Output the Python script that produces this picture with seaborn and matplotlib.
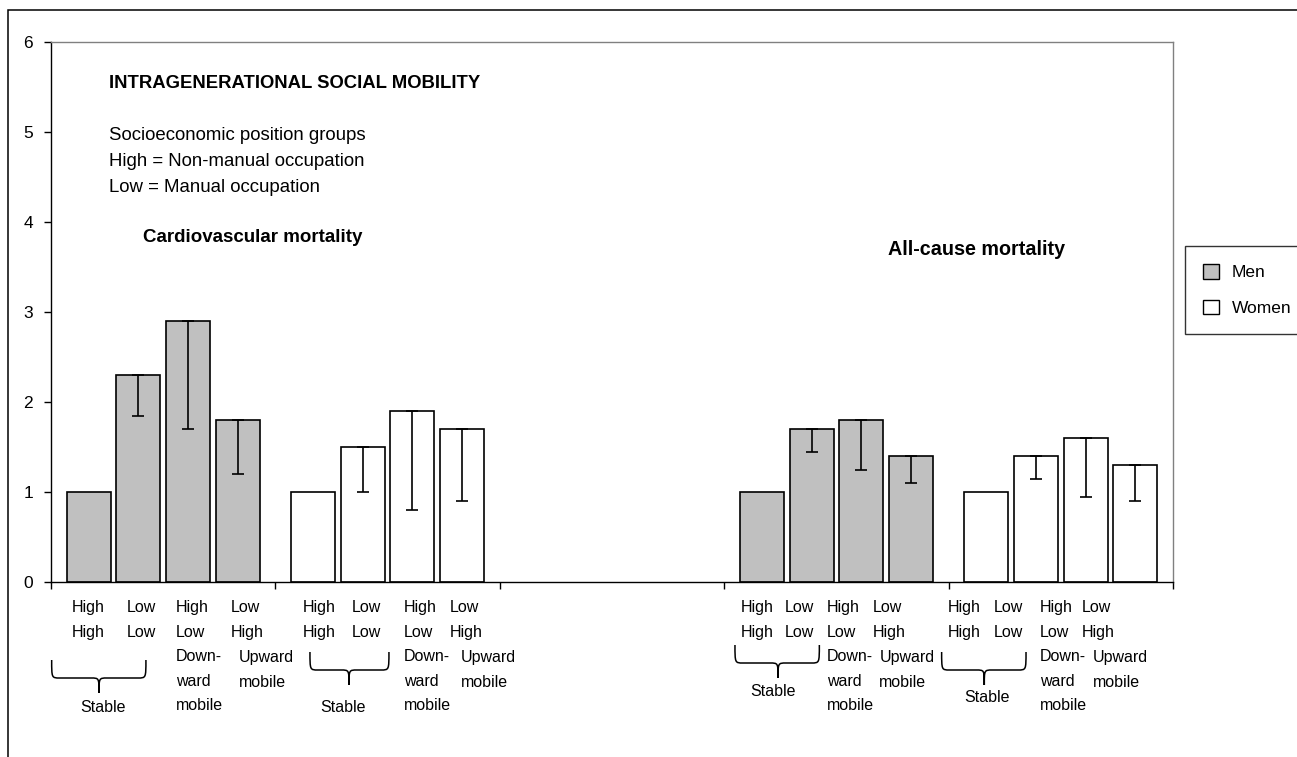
import numpy as np
import pandas as pd
import matplotlib
matplotlib.use("Agg")
import matplotlib.pyplot as plt
import matplotlib.transforms as mtransforms
from matplotlib.patches import Patch, Rectangle, PathPatch
from matplotlib.path import Path
import seaborn as sns

# data
grupos = ["cvd_men", "cvd_women", "vazio", "all_men", "all_women"]
mobilidade = ["High-High", "Low-Low", "High-Low", "Low-High"]

cvd_men = [1.0, 2.3, 2.9, 1.8]
cvd_men_low = [np.nan, 1.85, 1.7, 1.2]
cvd_women = [1.0, 1.5, 1.9, 1.7]
cvd_women_low = [np.nan, 1.0, 0.8, 0.9]
all_men = [1.0, 1.7, 1.8, 1.4]
all_men_low = [np.nan, 1.45, 1.25, 1.1]
all_women = [1.0, 1.4, 1.6, 1.3]
all_women_low = [np.nan, 1.15, 0.95, 0.9]

rotulos = ["High\nHigh", "Low\nLow", "High\nLow", "Low\nHigh"]
desc_down = "Down-\nward\nmobile"
desc_up = "Upward\nmobile"
texto_titulo = "INTRAGENERATIONAL SOCIAL MOBILITY"
texto_info = ["Socioeconomic position groups",
              "High = Non-manual occupation",
              "Low = Manual occupation"]

homens = pd.DataFrame({
    "grupo": ["cvd_men"] * 4 + ["all_men"] * 4,
    "mob": mobilidade * 2,
    "valor": cvd_men + all_men,
    "baixo": cvd_men_low + all_men_low,
})
mulheres = pd.DataFrame({
    "grupo": ["cvd_women"] * 4 + ["all_women"] * 4,
    "mob": mobilidade * 2,
    "valor": cvd_women + all_women,
    "baixo": cvd_women_low + all_women_low,
})

W, H = 1297, 757
sns.set_theme(style="white")
plt.rcParams["font.family"] = ["Liberation Sans", "DejaVu Sans"]
plt.rcParams["text.color"] = "black"
plt.rcParams["xtick.color"] = "black"
plt.rcParams["ytick.color"] = "black"
plt.rcParams["axes.labelcolor"] = "black"

fig = plt.figure(figsize=(W / 100, H / 100), dpi=100)
ax = fig.add_axes([51 / W, 1 - 582 / H, (1173 - 51) / W, (582 - 42) / H])

cinza = "#c0c0c0"
largura = 0.884
for df, cor in [(homens, cinza), (mulheres, "white")]:
    sns.barplot(data=df, x="grupo", y="valor", hue="mob", order=grupos,
                hue_order=mobilidade, palette=[cor] * 4, width=largura, gap=0.11,
                edgecolor="black", linewidth=1.2, errorbar=None, legend=False,
                saturation=1, ax=ax)

# error bars (minus only), positioned on the bars seaborn drew
todos = pd.concat([homens, mulheres])
baixos = {(r.grupo, r.mob): r.baixo for r in todos.itertuples()}
slot = largura / 4
for p in ax.patches:
    cx = p.get_x() + p.get_width() / 2
    topo = p.get_height()
    gi = int(round(cx))
    hi = int(round((cx - gi + largura / 2 - slot / 2) / slot))
    lo = baixos.get((grupos[gi], mobilidade[hi]), np.nan)
    if np.isnan(lo):
        continue
    ax.errorbar(cx, topo, yerr=[[topo - lo], [0]], fmt="none", ecolor="black",
                elinewidth=1.2, capsize=4.3, capthick=1.2, zorder=5)

ax.set_xlim(-0.5, 4.5)
ax.set_ylim(0, 6)
ax.set_yticks(range(7))
ax.set_xticks(np.arange(-0.5, 5, 1))
ax.set_xticklabels([])
ax.set_xlabel("")
ax.set_ylabel("")
ax.tick_params(axis="y", direction="out", length=5, width=1, color="black",
               labelsize=12.5, labelcolor="black", pad=8, left=True)
ax.tick_params(axis="x", direction="out", length=5, width=1, color="black", bottom=True)
for lado in ["left", "bottom"]:
    ax.spines[lado].set_color("black")
    ax.spines[lado].set_linewidth(1.0)
for lado in ["top", "right"]:
    ax.spines[lado].set_color("#808080")
    ax.spines[lado].set_linewidth(1.0)
ax.grid(False)


def fy(py):
    return 1 - py / H


def fx(px):
    return px / W


fig.text(fx(109), fy(84), texto_titulo, fontsize=13.3, fontweight="bold", va="center")
for i, linha in enumerate(texto_info):
    fig.text(fx(109), fy(136 + 26 * i), linha, fontsize=13.4, va="center")
fig.text(fx(143), fy(237), "Cardiovascular mortality", fontsize=13.5,
         fontweight="bold", va="center")
fig.text(fx(888), fy(249), "All-cause mortality", fontsize=14.2,
         fontweight="bold", va="center")

# category labels under the axis (manual text boxes in the original)
mix = mtransforms.blended_transform_factory(ax.transData, fig.transFigure)
layout = {
    0: dict(lab=[-0.408, -0.161, 0.057, 0.301], up=0.338, br=(-0.497, -0.077),
            tip=-0.286, st=-0.268, brtop=660, sty=707),
    1: dict(lab=[-0.376, -0.160, 0.073, 0.278], up=0.326, br=(-0.346, 0.006),
            tip=-0.172, st=-0.199, brtop=652, sty=707),
    3: dict(lab=[-0.426, -0.229, -0.043, 0.162], up=0.191, br=(-0.452, -0.076),
            tip=-0.260, st=-0.283, brtop=645, sty=691),
    4: dict(lab=[-0.506, -0.298, -0.093, 0.093], up=0.142, br=(-0.531, -0.155),
            tip=-0.341, st=-0.330, brtop=652, sty=698),
}
fs_lab = 11.5
esp = 1.78
r = 8 / 224.4
for g, lay in layout.items():
    for k, rot in enumerate(rotulos):
        ax.text(g + lay["lab"][k], fy(620), rot, transform=mix, fontsize=fs_lab,
                ha="left", va="center", linespacing=esp)
    ax.text(g + lay["lab"][2], fy(681), desc_down, transform=mix, fontsize=fs_lab,
            ha="left", va="center", linespacing=esp)
    ax.text(g + lay["up"], fy(670), desc_up, transform=mix, fontsize=fs_lab,
            ha="left", va="center", linespacing=esp)
    x0, x1 = g + lay["br"][0], g + lay["br"][1]
    xm = g + lay["tip"]
    yt = fy(lay["brtop"])
    yh = fy(lay["brtop"] + 18)
    yp = fy(lay["brtop"] + 33)
    verts = [(x0, yt), (x0, yh), (x0, yh), (x0 + r, yh),
             (xm - r, yh), (xm, yh), (xm, yh), (xm, yp),
             (xm, yh), (xm, yh), (xm + r, yh),
             (x1 - r, yh), (x1, yh), (x1, yh), (x1, yt)]
    codes = [Path.MOVETO, Path.CURVE4, Path.CURVE4, Path.CURVE4,
             Path.LINETO, Path.CURVE4, Path.CURVE4, Path.CURVE4,
             Path.CURVE4, Path.CURVE4, Path.CURVE4,
             Path.LINETO, Path.CURVE4, Path.CURVE4, Path.CURVE4]
    fig.add_artist(PathPatch(Path(verts, codes), transform=mix, fill=False,
                             edgecolor="black", lw=1.1, clip_on=False))
    ax.text(g + lay["st"], fy(lay["sty"]), "Stable", transform=mix, fontsize=fs_lab,
            ha="center", va="center")

# legend
handles = [Patch(facecolor=cinza, edgecolor="black", lw=1.0),
           Patch(facecolor="white", edgecolor="black", lw=1.0)]
leg = fig.legend(handles, ["Men", "Women"], loc="upper left",
                 bbox_to_anchor=(fx(1185), fy(246), 0.2, 0.0), mode="expand",
                 frameon=True, fancybox=False, fontsize=12.5, handlelength=0.9,
                 handleheight=0.9, handletextpad=0.75, labelspacing=1.1,
                 borderpad=1.05, borderaxespad=0)
leg.get_frame().set_edgecolor("black")
leg.get_frame().set_linewidth(1.0)

# outer frame of the chart area
fig.add_artist(Rectangle((fx(8), -0.5), 2, fy(10) + 0.5, transform=fig.transFigure,
                         fill=False, edgecolor="black", lw=1.1))

fig.savefig("out.png", dpi=100)
